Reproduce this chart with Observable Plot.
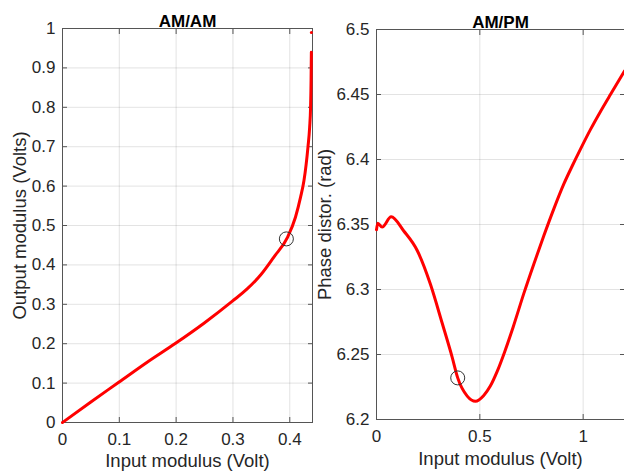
<!DOCTYPE html>
<html><head><meta charset="utf-8">
<script src="https://cdn.jsdelivr.net/npm/d3@7"></script>
<script src="https://cdn.jsdelivr.net/npm/@observablehq/plot@0.6"></script>
<style>
body{margin:0;background:#fff;}
#wrap{position:relative;width:624px;height:474px;overflow:hidden;}
#wrap svg{position:absolute;top:0;}
</style></head><body><div id="wrap"></div>
<script>
// AM/AM data
const amamX = [0, 0.0493, 0.099, 0.149, 0.199, 0.249, 0.299, 0.325, 0.349, 0.372, 0.396, 0.410, 0.419, 0.425, 0.432, 0.435, 0.4366, 0.4375, 0.438];
const amamY = [0, 0.0516, 0.102, 0.153, 0.201, 0.252, 0.308, 0.339, 0.375, 0.420, 0.470, 0.521, 0.572, 0.614, 0.699, 0.75, 0.80, 0.87, 0.94];
const amamDotX = [0.438];
const amamDotY = [0.99];
const amamMarkX = [0.394];
const amamMarkY = [0.466];
// AM/PM data
const ampmX = [0, 0.006, 0.027, 0.071, 0.132, 0.197, 0.261, 0.318, 0.366, 0.393, 0.439, 0.479, 0.519, 0.55, 0.584, 0.62, 0.661, 0.713, 0.761, 0.810, 0.858, 0.906, 0.947, 0.987, 1.035, 1.084, 1.132, 1.2];
const ampmY = [6.346, 6.351, 6.348, 6.356, 6.345, 6.330, 6.304, 6.274, 6.248, 6.232, 6.218, 6.214, 6.2185, 6.2255, 6.237, 6.252, 6.271, 6.297, 6.3195, 6.3415, 6.362, 6.381, 6.395, 6.408, 6.423, 6.437, 6.450, 6.468];
const ampmMarkX = [0.393];
const ampmMarkY = [6.232];
// ticks
const leftXTicks = [0, 0.1, 0.2, 0.3, 0.4];
const leftYTicks = [0, 0.1, 0.2, 0.3, 0.4, 0.5, 0.6, 0.7, 0.8, 0.9, 1];
const rightXTicks = [0, 0.5, 1];
const rightYTicks = [6.2, 6.25, 6.3, 6.35, 6.4, 6.45, 6.5];
// labels
const titles = ["AM/AM", "AM/PM"];
const xLabels = ["Input modulus (Volt)", "Input modulus (Volt)"];
const yLabels = ["Output modulus (Volts)", "Phase distor. (rad)"];

const FONT = '"Liberation Sans", Arial, Helvetica, sans-serif';
const AX = "#262626";
const TICK_FS = 17;
const LABEL_FS = 18.5;
const TITLE_FS = 17;

function frameMarks(xt, yt) {
  const fmt = d => String(d);
  const blank = () => "";
  return [
    Plot.gridX(xt, {stroke: AX, strokeOpacity: 0.13}),
    Plot.gridY(yt, {stroke: AX, strokeOpacity: 0.13}),
    Plot.frame({stroke: "#555", strokeWidth: 1}),
    Plot.axisX(xt, {anchor: "bottom", tickSize: -5, tickPadding: 15, tickFormat: fmt, fontSize: TICK_FS, color: AX, stroke: "#555", label: null}),
    Plot.axisX(xt, {anchor: "top", tickSize: -5, tickFormat: blank, stroke: "#555", label: null}),
    Plot.axisY(yt, {anchor: "left", tickSize: -5, tickPadding: 12, tickFormat: fmt, fontSize: TICK_FS, color: AX, stroke: "#555", label: null}),
    Plot.axisY(yt, {anchor: "right", tickSize: -5, tickFormat: blank, stroke: "#555", label: null})
  ];
}

function textMarks(i, xdy, ydx) {
  return [
    Plot.text([titles[i]], {frameAnchor: "top", dy: -14, fontSize: TITLE_FS, fontWeight: "bold", fill: "#000", textAnchor: "middle"}),
    Plot.text([xLabels[i]], {frameAnchor: "bottom", dy: xdy, fontSize: LABEL_FS, fill: AX, lineAnchor: "middle", textAnchor: "middle"}),
    Plot.text([yLabels[i]], {frameAnchor: "left", dx: ydx, rotate: -90, fontSize: LABEL_FS, fill: AX, lineAnchor: "middle", textAnchor: "middle"})
  ];
}

const left = Plot.plot({
  width: 316, height: 474,
  marginTop: 28, marginBottom: 52, marginLeft: 62, marginRight: 4,
  style: {fontFamily: FONT, background: "transparent", overflow: "visible"},
  x: {domain: [0, 0.44]},
  y: {domain: [0, 1]},
  marks: [
    ...frameMarks(leftXTicks, leftYTicks),
    Plot.line(amamX, {x: amamX, y: amamY, stroke: "#ff0000", strokeWidth: 3, curve: "monotone-x"}),
    Plot.dot(amamDotX, {x: amamDotX, y: amamDotY, r: 1.5, fill: "#ff0000"}),
    Plot.dot(amamMarkX, {x: amamMarkX, y: amamMarkY, r: 7, stroke: "#333", strokeWidth: 1, fill: "none"}),
    ...textMarks(0, 39, -42)
  ]
});
left.style.left = "0px";

const right = Plot.plot({
  width: 308, height: 474,
  marginTop: 29, marginBottom: 55, marginLeft: 60, marginRight: 0,
  style: {fontFamily: FONT, background: "transparent", overflow: "visible"},
  x: {domain: [0, 1.2]},
  y: {domain: [6.2, 6.5]},
  marks: [
    ...frameMarks(rightXTicks, rightYTicks),
    Plot.line(ampmX, {x: ampmX, y: ampmY, stroke: "#ff0000", strokeWidth: 3, curve: "monotone-x"}),
    Plot.dot(ampmMarkX, {x: ampmMarkX, y: ampmMarkY, r: 7, stroke: "#333", strokeWidth: 1, fill: "none"}),
    ...textMarks(1, 40, -51)
  ]
});
right.style.left = "316px";

const wrap = document.getElementById("wrap");
wrap.appendChild(left);
wrap.appendChild(right);
</script></body></html>
